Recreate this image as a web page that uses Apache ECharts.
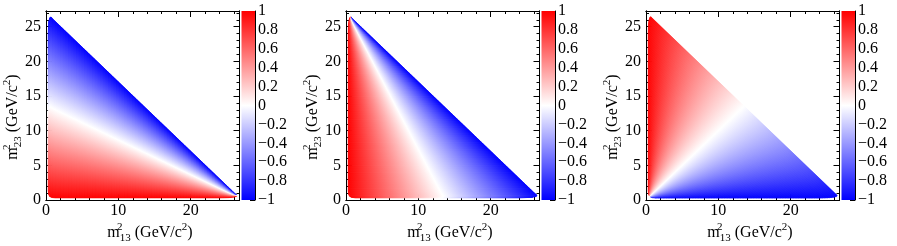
<!DOCTYPE html>
<html>
<head>
<meta charset="utf-8">
<script src="https://cdn.jsdelivr.net/npm/echarts@6/dist/echarts.min.js"></script>
<style>
html,body{margin:0;padding:0;background:#fff;}
#chart{width:897px;height:246px;}
</style>
</head>
<body>
<div id="chart"></div>
<script>
// Dalitz boundary, closed polygon in (m13^2, m23^2), GeV^2/c^4
var bndM13 = [0.30, 0.36, 0.50, 0.80, 1.30, 24.0, 25.3, 26.0, 26.3, 26.45, 26.0, 1.05, 0.65, 0.52, 0.42, 0.34, 0.30];
var bndM23 = [1.30, 0.80, 0.52, 0.36, 0.30, 0.30, 0.34, 0.42, 0.52, 0.65, 1.05, 26.0, 26.45, 26.3, 26.0, 25.3, 24.0];

// axis ranges
var m13Max = 26.75;
var m23Max = 27.27;

// tick labels
var xTickVals = [0, 10, 20];
var xTickText = ['0', '10', '20'];
var yTickVals = [0, 5, 10, 15, 20, 25];
var yTickText = ['0', '5', '10', '15', '20', '25'];
var cbTickVals = [1, 0.8, 0.6, 0.4, 0.2, 0, -0.2, -0.4, -0.6, -0.8, -1];
var cbTickText = ['1', '0.8', '0.6', '0.4', '0.2', '0', '\u22120.2', '\u22120.4', '\u22120.6', '\u22120.8', '\u22121'];

// colour palette (z value -> colour)
var paletteVals = [1, 0, -1];
var paletteColors = ['#ff0000', '#ffffff', '#0000ff'];

// the variable held fixed along each colour strip in each panel
var panelStrip = ['m13', 'm23', 'm12'];

var FONT = 'Liberation Serif';

function lookup(vals, texts, v) {
	for (var i = 0; i < vals.length; i++) {
		if (Math.abs(vals[i] - v) < 1e-6) return texts[i];
	}
	return '';
}

function uOf(kind, x, y) { return kind === 'm13' ? x : kind === 'm23' ? y : x + y; }
function vOf(kind, x, y) { return kind === 'm13' ? y : x; }

// the two points where the line u = const crosses the boundary
function cuts(kind, u) {
	var pts = [];
	var n = bndM13.length;
	for (var i = 0; i < n; i++) {
		var j = (i + 1) % n;
		var x0 = bndM13[i], y0 = bndM23[i], x1 = bndM13[j], y1 = bndM23[j];
		var u0 = uOf(kind, x0, y0), u1 = uOf(kind, x1, y1);
		if (u0 === u1) continue;
		if ((u0 - u) * (u1 - u) <= 0) {
			var t = (u - u0) / (u1 - u0);
			pts.push([x0 + t * (x1 - x0), y0 + t * (y1 - y0)]);
		}
	}
	pts.sort(function (a, b) { return vOf(kind, a[0], a[1]) - vOf(kind, b[0], b[1]); });
	return [pts[0], pts[pts.length - 1]];
}

function stops() {
	var s = [];
	for (var i = 0; i < paletteVals.length; i++) {
		s.push({ offset: (1 - paletteVals[i]) / 2, color: paletteColors[i] });
	}
	return s;
}

function renderPanel(kind) {
	return function (params, api) {
		var umin = Infinity, umax = -Infinity;
		for (var i = 0; i < bndM13.length; i++) {
			var u = uOf(kind, bndM13[i], bndM23[i]);
			umin = Math.min(umin, u); umax = Math.max(umax, u);
		}
		var eps = 1e-4;
		var steps = 260;
		var children = [];
		var prev = cuts(kind, umin + eps);
		for (var k = 1; k <= steps; k++) {
			var uu = umin + (umax - umin) * k / steps;
			if (k === steps) uu = umax - eps;
			var cur = cuts(kind, uu);
			var a0 = api.coord(prev[0]), a1 = api.coord(cur[0]);
			var b0 = api.coord(prev[1]), b1 = api.coord(cur[1]);
			var grad = {
				type: 'linear', global: true,
				x: (a0[0] + a1[0]) / 2, y: (a0[1] + a1[1]) / 2,
				x2: (b0[0] + b1[0]) / 2, y2: (b0[1] + b1[1]) / 2,
				colorStops: stops()
			};
			children.push({
				type: 'polygon',
				shape: { points: [a0, b0, b1, a1] },
				style: { fill: grad, stroke: grad, lineWidth: 0.7 }
			});
			prev = cur;
		}
		return { type: 'group', children: children };
	};
}

function renderBar(params, api) {
	var p0 = api.coord([0, cbTickVals[0]]);
	var p1 = api.coord([1, cbTickVals[cbTickVals.length - 1]]);
	return {
		type: 'rect',
		shape: { x: p0[0], y: p0[1], width: p1[0] - p0[0], height: p1[1] - p0[1] },
		style: {
			fill: { type: 'linear', x: 0, y: 0, x2: 0, y2: 1, colorStops: stops() }
		}
	};
}

var grids = [], xAxes = [], yAxes = [], series = [], graphics = [];
var labelStyle = { fontFamily: FONT, fontSize: 16, color: '#000' };

for (var p = 0; p < 3; p++) {
	grids.push({ left: 46 + 300 * p, top: 11, width: 193.5, height: 189 });
	var xs = [
		{ position: 'bottom', interval: 10, len: 6, label: true },
		{ position: 'bottom', interval: 2, len: 3, label: false },
		{ position: 'top', interval: 10, len: 6, label: false },
		{ position: 'top', interval: 2, len: 3, label: false }
	];
	xs.forEach(function (a) {
		xAxes.push({
			type: 'value', gridIndex: p, min: 0, max: m13Max, interval: a.interval, position: a.position,
			axisLine: { show: true, onZero: false, lineStyle: { color: '#000', width: 1 } },
			axisTick: { show: true, inside: true, length: a.len, lineStyle: { color: '#000' } },
			axisLabel: Object.assign({ show: a.label, margin: 3, showMaxLabel: false,
				formatter: function (v) { return lookup(xTickVals, xTickText, v); } }, labelStyle),
			splitLine: { show: false }
		});
	});
	var ys = [
		{ position: 'left', interval: 5, len: 6, label: true },
		{ position: 'left', interval: 1, len: 3, label: false },
		{ position: 'right', interval: 5, len: 6, label: false },
		{ position: 'right', interval: 1, len: 3, label: false }
	];
	ys.forEach(function (a) {
		yAxes.push({
			type: 'value', gridIndex: p, min: 0, max: m23Max, interval: a.interval, position: a.position,
			axisLine: { show: true, onZero: false, lineStyle: { color: '#000', width: 1 } },
			axisTick: { show: true, inside: true, length: a.len, lineStyle: { color: '#000' } },
			axisLabel: Object.assign({ show: a.label, margin: 5, showMaxLabel: false,
				formatter: function (v) { return lookup(yTickVals, yTickText, v); } }, labelStyle),
			splitLine: { show: false }
		});
	});
	series.push({
		type: 'custom', name: 'panel' + (p + 1), xAxisIndex: 4 * p, yAxisIndex: 4 * p,
		data: [[0, 0]], renderItem: renderPanel(panelStrip[p]), silent: true
	});

	// axis titles
	var rich = {
		m: { fontFamily: FONT, fontSize: 16, lineHeight: 22 },
		sp: { fontFamily: FONT, fontSize: 11, verticalAlign: 'top', width: 0 },
		sb: { fontFamily: FONT, fontSize: 11, verticalAlign: 'bottom' },
		t: { fontFamily: FONT, fontSize: 16 },
		sc: { fontFamily: FONT, fontSize: 11, verticalAlign: 'top' }
	};
	graphics.push({
		type: 'text', x: 150 + 300 * p, y: 233,
		style: { text: '{m|m}{sp|2}{sb|13}{t| (GeV/c}{sc|2}{t|)}', rich: rich, align: 'center', verticalAlign: 'middle', fill: '#000' }
	});
	graphics.push({
		type: 'text', x: 13 + 300 * p, y: 117, rotation: Math.PI / 2,
		style: { text: '{m|m}{sp|2}{sb|23}{t| (GeV/c}{sc|2}{t|)}', rich: rich, align: 'center', verticalAlign: 'middle', fill: '#000' }
	});
}

// colour bars
for (var c = 0; c < 3; c++) {
	grids.push({ left: 241.5 + 300 * c, top: 11, width: 13.5, height: 189 });
	xAxes.push({ type: 'value', gridIndex: 3 + c, min: 0, max: 1, show: false });
	yAxes.push({
		type: 'value', gridIndex: 3 + c, min: -1, max: 1, interval: 0.2, position: 'right',
		axisLine: { show: true, onZero: false, lineStyle: { color: '#000', width: 1 } },
		axisTick: { show: true, inside: true, length: 5, lineStyle: { color: '#000' } },
		axisLabel: Object.assign({ margin: 3, formatter: function (v) { return lookup(cbTickVals, cbTickText, v); } }, labelStyle),
		splitLine: { show: false }
	});
	series.push({
		type: 'custom', name: 'palette' + (c + 1), xAxisIndex: 12 + c, yAxisIndex: 12 + c,
		data: [[0, 0]], renderItem: renderBar, silent: true, z: 1
	});
}

var chart = echarts.init(document.getElementById('chart'), null, { renderer: 'canvas' });
chart.setOption({
	animation: false,
	backgroundColor: '#fff',
	grid: grids,
	xAxis: xAxes,
	yAxis: yAxes,
	series: series,
	graphic: graphics
});
</script>
</body>
</html>
